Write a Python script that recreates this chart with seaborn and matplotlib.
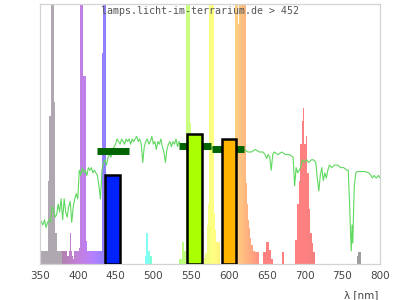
import matplotlib
matplotlib.use("Agg")
import matplotlib.pyplot as plt
import numpy as np
import pandas as pd
import seaborn as sns

TITLE = "lamps.licht-im-terrarium.de > 452"
X_LABEL = "λ [nm]"
X_TICKS = [350, 400, 450, 500, 550, 600, 650, 700, 750, 800]

# lamp emission spectrum (relative, values > 1 are clipped at the top)
em_nm = [351, 352, 353, 354, 355, 356, 357, 358, 359, 360,
         361, 362, 363, 364, 365, 366, 367, 368, 369, 370, 371, 372,
         373, 374, 375, 376, 377, 378,
         379, 380, 381, 382, 383, 384, 385, 386, 387, 388, 389, 390, 391, 392,
         393, 394, 395, 396, 397,
         398, 399, 400, 401, 402, 403, 404, 405, 406, 407, 408, 409, 410, 411, 412,
         413, 414, 415, 416, 417, 418, 419, 420, 421, 422, 423, 424, 425, 426, 427,
         428, 429, 430, 431, 432, 433, 434, 435, 436, 437,
         490, 491, 492, 493, 494, 495, 496, 497, 498,
         535, 536, 537, 538, 539, 540, 541, 542, 543, 544, 545, 546, 547, 548, 549, 550,
         568, 569, 570, 571, 572, 573, 574, 575, 576, 577, 578, 579, 580, 581, 582,
         583, 584, 585, 586, 587, 588,
         609, 610, 611, 612, 613, 614, 615, 616, 617, 618, 619, 620, 621, 622,
         623, 624, 625, 626, 627, 628, 629, 630, 631, 632, 633, 634, 635, 636, 637,
         638, 639, 640,
         646, 647, 648, 649, 650, 651, 652, 653, 654, 655, 656, 657, 658,
         671, 672, 673,
         688, 689, 690, 691, 692, 693, 694, 695, 696, 697, 698, 699, 700, 701, 702,
         703, 704, 705, 706, 707, 708, 709, 710, 711, 712, 713,
         770, 771, 772, 773, 774]
em_val = [0.05, 0.05, 0.05, 0.05, 0.05, 0.05, 0.05, 0.05, 0.05, 0.05,
          0.32, 0.32, 0.57, 0.57, 1.5, 1.5, 1.5, 1.5, 0.62, 0.62, 0.12, 0.12,
          0.05, 0.05, 0.05, 0.05, 0.05, 0.05,
          0.05, 0.05, 0.05, 0.05, 0.05, 0.05, 0.05, 0.03, 0.05, 0.03, 0.05, 0.12, 0.12, 0.05,
          0.03, 0.02, 0.05, 0.05, 0.05,
          0.05, 0.05, 0.05, 0.05, 0.06, 1.5, 1.5, 1.5, 1.5, 1.5, 0.72, 0.72, 0.72, 0.09, 0.09,
          0.05, 0.05, 0.05, 0.05, 0.05, 0.05, 0.05, 0.05, 0.05, 0.05, 0.05, 0.05, 0.05, 0.05, 0.05,
          0.05, 0.05, 0.05, 0.05, 0.05, 0.81, 1.5, 1.5, 1.5, 1.5,
          0.03, 0.12, 0.12, 0.12, 0.05, 0.05, 0.03, 0.03, 0.03,
          0.02, 0.02, 0.02, 0.04, 0.085, 0.085, 0.05, 0.05, 0.05, 1.5, 1.5, 1.5, 1.5, 1.5, 0.54, 0.3,
          0.023, 0.042, 0.042, 0.15, 0.15, 0.23, 1.5, 1.5, 1.5, 1.5, 1.5, 1.5, 1.5, 0.195, 0.13,
          0.085, 0.085, 0.085, 0.085, 0.085, 0.085,
          1.5, 1.5, 1.5, 0.92, 0.92, 1.5, 1.5, 0.88, 1.5, 1.5, 1.5, 1.5, 1.5, 1.5,
          0.31, 0.25, 0.23, 0.17, 0.14, 0.10, 0.10, 0.073, 0.073, 0.05, 0.05, 0.05, 0.047, 0.047, 0.047,
          0.047, 0.047, 0.03,
          0.047, 0.047, 0.047, 0.085, 0.085, 0.085, 0.085, 0.055, 0.055, 0.055, 0.02, 0.02, 0.02,
          0.047, 0.047, 0.047,
          0.092, 0.092, 0.15, 0.23, 0.23, 0.32, 0.32, 0.46, 0.46, 0.55, 0.60, 0.60, 0.46, 0.46, 0.49,
          0.49, 0.35, 0.35, 0.21, 0.21, 0.12, 0.12, 0.08, 0.08, 0.047, 0.047,
          0.03, 0.03, 0.047, 0.047, 0.047]

# transmission / reference curve (green line)
tr_nm = [350, 352, 354, 356, 358, 360, 362, 364, 366, 368, 370, 372, 374, 376, 378, 380,
         382, 384, 386, 388, 390, 392, 394, 396, 398, 400, 402, 404, 406, 408, 410, 412,
         414, 416, 418, 420, 422, 424, 426, 428, 430, 432, 434, 436, 438, 440, 442, 444,
         446, 448, 450, 452, 454, 456, 458, 460, 462, 464, 466, 468, 470, 472, 474, 476,
         478, 480, 482, 484, 486, 488, 490, 492, 494, 496, 498, 500, 502, 504, 506, 508,
         510, 512, 514, 516, 518, 520, 522, 524, 526, 528, 530, 532, 534, 536, 538, 540,
         545, 550, 555, 560, 565, 570, 575, 580, 585, 590, 595, 600, 605, 610, 615, 620,
         625, 630, 635, 640, 645, 648, 650, 652, 654, 656, 658, 660, 665, 670, 675, 680,
         685, 687, 689, 691, 693, 695, 697, 700, 703, 706, 709, 712, 715, 717, 719, 721,
         723, 725, 727, 729, 731, 733, 736, 740, 744, 748, 752, 756, 758, 760, 761, 762,
         763, 764, 765, 766, 768, 770, 775, 780, 785, 788, 790, 792, 795, 798, 800]
tr_val = [0.17, 0.16, 0.15, 0.17, 0.14, 0.16, 0.17, 0.16, 0.22, 0.21, 0.18, 0.19, 0.23, 0.20, 0.25, 0.17,
          0.25, 0.20, 0.18, 0.22, 0.24, 0.16, 0.22, 0.25, 0.27, 0.25, 0.36, 0.34, 0.37, 0.35, 0.36, 0.34,
          0.37, 0.36, 0.37, 0.35, 0.36, 0.35, 0.34, 0.30, 0.25, 0.36, 0.39, 0.40, 0.38, 0.41, 0.42, 0.41,
          0.44, 0.45, 0.46, 0.48, 0.47, 0.46, 0.48, 0.47, 0.46, 0.48, 0.47, 0.48, 0.46, 0.48, 0.47, 0.48,
          0.49, 0.47, 0.48, 0.46, 0.39, 0.45, 0.47, 0.48, 0.46, 0.47, 0.49, 0.46, 0.47, 0.44, 0.47, 0.46,
          0.48, 0.45, 0.43, 0.39, 0.44, 0.46, 0.47, 0.45, 0.47, 0.46, 0.48, 0.45, 0.47, 0.46, 0.45, 0.46,
          0.46, 0.45, 0.46, 0.45, 0.44, 0.45, 0.44, 0.45, 0.44, 0.44, 0.44, 0.43, 0.44, 0.43, 0.44, 0.44,
          0.43, 0.43, 0.44, 0.43, 0.43, 0.42, 0.405, 0.42, 0.41, 0.36, 0.42, 0.43, 0.42, 0.43, 0.42, 0.42,
          0.41, 0.30, 0.37, 0.35, 0.36, 0.37, 0.40, 0.39, 0.40, 0.39, 0.40, 0.40, 0.39, 0.33, 0.28, 0.34,
          0.37, 0.32, 0.35, 0.33, 0.36, 0.38, 0.37, 0.38, 0.38, 0.37, 0.37, 0.36, 0.36, 0.21, 0.12, 0.05,
          0.15, 0.08, 0.20, 0.30, 0.35, 0.355, 0.355, 0.355, 0.35, 0.34, 0.33, 0.34, 0.33, 0.34, 0.33]

# band bars (outlined)
band_center = [446, 554, 600]
band_width = [20, 20, 19]
band_value = [0.343, 0.50, 0.48]
band_color = ["#0022ff", "#aaff00", "#ffb400"]

# dark green reference segments
seg_start = [425, 534, 578]
seg_end = [468, 576, 620]
seg_value = [0.432, 0.454, 0.44]


def spectral_color(wl):
    if wl < 380:
        return (0.69, 0.66, 0.69)
    if wl >= 750:
        return (0.62, 0.62, 0.62)
    if wl < 440:
        r, g, b = -(wl - 440) / 60.0, 0.0, 1.0
    elif wl < 490:
        r, g, b = 0.0, (wl - 440) / 50.0, 1.0
    elif wl < 510:
        r, g, b = 0.0, 1.0, -(wl - 510) / 20.0
    elif wl < 580:
        r, g, b = (wl - 510) / 70.0, 1.0, 0.0
    elif wl < 645:
        r, g, b = 1.0, -(wl - 645) / 65.0, 0.0
    else:
        r, g, b = 1.0, 0.0, 0.0
    if wl < 420:
        f = 0.3 + 0.7 * (wl - 380) / 40.0
    elif wl > 700:
        f = 0.3 + 0.7 * (780 - wl) / 80.0
    else:
        f = 1.0
    c = [(max(v, 0) * f) ** 0.8 for v in (r, g, b)]
    return tuple(0.5 + 0.5 * v for v in c)


sns.set_style("white")
plt.rcParams["font.family"] = ["DejaVu Sans"]

fig = plt.figure(figsize=(4, 3), dpi=100)
ax = fig.add_axes([0.1, 0.12, 0.85, 0.8683])

# emission spectrum
ax.bar(em_nm, em_val, width=1.0, align="center",
       color=[spectral_color(w) for w in em_nm], linewidth=0,
       antialiased=False, zorder=1)

# green reference curve
tr = pd.DataFrame({"nm": tr_nm, "val": tr_val})
sns.lineplot(data=tr, x="nm", y="val", ax=ax, color="#5fd95f",
             linewidth=0.8, estimator=None, sort=False, zorder=2)

# dark green segments
ax.hlines(seg_value, seg_start, seg_end, colors="#006400", linewidth=5.0,
          zorder=3)

# outlined band bars
ax.bar(band_center, band_value, width=band_width, color=band_color,
       edgecolor="black", linewidth=1.8, zorder=4)

ax.set_xlim(350, 800)
ax.set_ylim(0, 1)
ax.set_xticks(X_TICKS)
ax.set_xticklabels([str(t) for t in X_TICKS])
ax.set_yticks([])
ax.set_xlabel("")
ax.set_ylabel("")
ax.tick_params(axis="x", length=0, pad=5, labelsize=7.5, labelcolor="#444444")
for s in ax.spines.values():
    s.set_visible(True)
    s.set_color("#d3d3d3")
    s.set_linewidth(0.9)

fig.text(0.5, 1 - 11.5 / 300, TITLE, ha="center", va="center",
         family="DejaVu Sans Mono", fontsize=7.2, color="#555555", zorder=10)
fig.text(378 / 400, 5 / 300, X_LABEL, ha="right", va="center",
         fontsize=7.5, color="#444444")

fig.savefig("out.png", dpi=100)
